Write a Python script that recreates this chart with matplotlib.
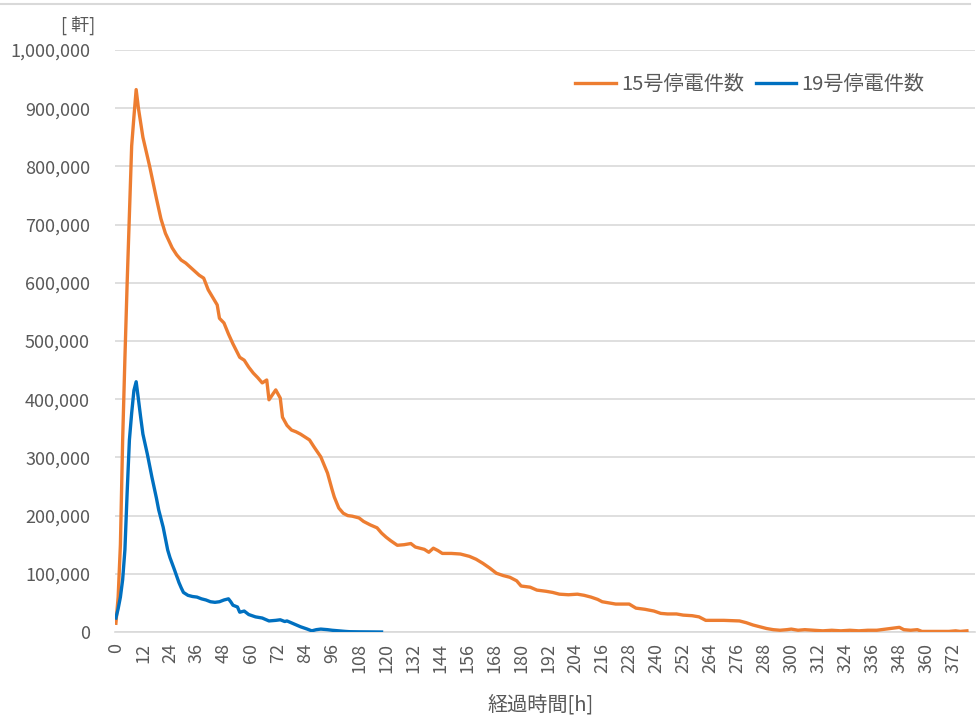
import matplotlib
matplotlib.use("Agg")
import matplotlib.pyplot as plt
from matplotlib.ticker import FuncFormatter
from matplotlib.lines import Line2D

plt.rcParams['font.family'] = ['Noto Sans CJK JP', 'DejaVu Sans']

# 15号 (hours, outages)
hours_15 = [0, 1, 2, 3, 4, 5, 6, 7, 8, 9, 10, 12, 15, 18, 20, 22, 25, 27, 29, 31,
            33, 35, 37, 39, 41, 43, 45, 46, 48, 50, 52, 55, 57, 59, 61, 63, 65, 67, 68, 71,
            73, 74, 76, 78, 80, 82, 84, 86, 88, 91, 94, 96, 97, 99, 101, 103, 105, 108, 110, 113,
            116, 118, 120, 122, 125, 128, 131, 133, 135, 137, 139, 141, 143, 145, 149, 153, 157, 160, 163, 166,
            169, 172, 175, 178, 180, 184, 187, 191, 194, 197, 201, 205, 208, 211, 214, 216, 219, 222, 228, 231,
            235, 239, 242, 245, 249, 252, 256, 259, 262, 270, 277, 280, 283, 286, 289, 292, 295, 298, 300, 303,
            306, 310, 314, 318, 322, 326, 330, 334, 338, 342, 346, 348, 350, 353, 356, 358, 362, 366, 370, 373,
            375, 378]
outages_15 = [15000, 60000, 150000, 330000, 470000, 600000, 720000, 835000, 885000, 932000,
              900000, 850000, 800000, 745000, 710000, 685000, 660000, 648000, 639000, 634000,
              627000, 620000, 613000, 608000, 588000, 575000, 562000, 539000, 531000, 512000,
              495000, 472000, 467000, 455000, 445000, 437000, 428000, 433000, 399000, 416000,
              402000, 369000, 355000, 347000, 344000, 340000, 335000, 330000, 318000, 301000,
              273000, 245000, 232000, 213000, 204000, 200000, 199000, 196000, 190000, 184000,
              179000, 170000, 163000, 157000, 149000, 150000, 152000, 146000, 144000, 142000,
              137000, 144000, 140000, 135000, 135000, 134000, 130000, 125000, 118000, 110000,
              101000, 97000, 94000, 88000, 79000, 77000, 72000, 70000, 68000, 65000,
              64000, 65000, 63000, 60000, 56000, 52000, 50000, 48000, 48000, 41000,
              39000, 36000, 32000, 31000, 31000, 29000, 28000, 26000, 20000, 20000,
              19000, 16000, 12000, 9000, 6000, 4000, 3000, 4000, 5000, 3000,
              4000, 3000, 2000, 3000, 2000, 3000, 2000, 3000, 3000, 5000,
              7000, 8000, 4000, 3000, 4000, 1000, 1000, 1000, 1000, 2000,
              1000, 2000]

# 19号 (hours, outages)
hours_19 = [0, 1, 2, 3, 4, 5, 6, 7, 8, 9, 10, 11, 12, 14, 16, 18, 19, 21, 23, 24,
            26, 28, 29, 30, 32, 34, 36, 38, 40, 42, 44, 46, 48, 50, 51, 52, 54, 55, 57, 59,
            62, 65, 68, 71, 73, 75, 76, 79, 82, 85, 87, 89, 91, 94, 96, 99, 102, 104, 108, 112,
            118]
outages_19 = [24000, 40000, 60000, 90000, 141000, 240000, 330000, 376000, 415000, 430000,
              400000, 369000, 340000, 305000, 266000, 230000, 210000, 180000, 141000, 128000,
              107000, 85000, 76000, 68000, 63000, 61000, 60000, 57000, 55000, 52000,
              51000, 52000, 55000, 57000, 52000, 46000, 43000, 34000, 36000, 30000,
              26000, 24000, 19000, 20000, 21000, 18000, 19000, 14000, 9000, 5000,
              2000, 4000, 5000, 4000, 3000, 2000, 1000, 500, 300, 200,
              0]

x_ticks = list(range(0, 373, 12))
y_ticks = list(range(0, 1000001, 100000))

grey_text = '#595959'
grid_col = '#d9d9d9'

fig = plt.figure(figsize=(9.8, 7.23), dpi=100)
ax = fig.add_axes([115 / 980, 1 - 632 / 723, 860 / 980, 582 / 723])

ax.plot(hours_15, outages_15, color='#ED7D31', lw=2.4, label='15号停電件数',
        solid_joinstyle='round', zorder=3)
ax.plot(hours_19, outages_19, color='#0070C0', lw=2.4, label='19号停電件数',
        solid_joinstyle='round', zorder=3)

ax.set_xlim(-0.4, 381.6)
ax.set_ylim(0, 1000000)
ax.set_xticks(x_ticks)
ax.set_xticklabels([str(t) for t in x_ticks], rotation=90)
ax.set_yticks(y_ticks)
ax.yaxis.set_major_formatter(FuncFormatter(lambda v, p: f'{int(v):,}'))

ax.grid(axis='y', color=grid_col, lw=1.2)
ax.set_axisbelow(True)
for s in ['top', 'right', 'left']:
    ax.spines[s].set_visible(False)
ax.spines['bottom'].set_color(grid_col)
ax.spines['bottom'].set_linewidth(1.2)
ax.tick_params(axis='both', length=0, colors=grey_text, labelsize=13)
ax.tick_params(axis='x', pad=8)
ax.tick_params(axis='y', pad=18)

fig.text(95 / 980, 1 - 25 / 723, '[ 軒]', ha='right', va='center', color=grey_text, fontsize=13)
fig.text(541 / 980, 1 - 705 / 723, '経過時間[h]', ha='center', va='center', color=grey_text, fontsize=14.5)

ax.legend(loc='upper right', bbox_to_anchor=(0.962, 0.99), ncol=2, frameon=False,
          fontsize=14.5, handlelength=2.0, handletextpad=0.25, columnspacing=0.6,
          labelcolor=grey_text)

fig.add_artist(Line2D([0, 0.99], [1 - 4 / 723, 1 - 4 / 723], color='#d9d9d9', lw=1.5))

fig.savefig('out.png', dpi=100)
